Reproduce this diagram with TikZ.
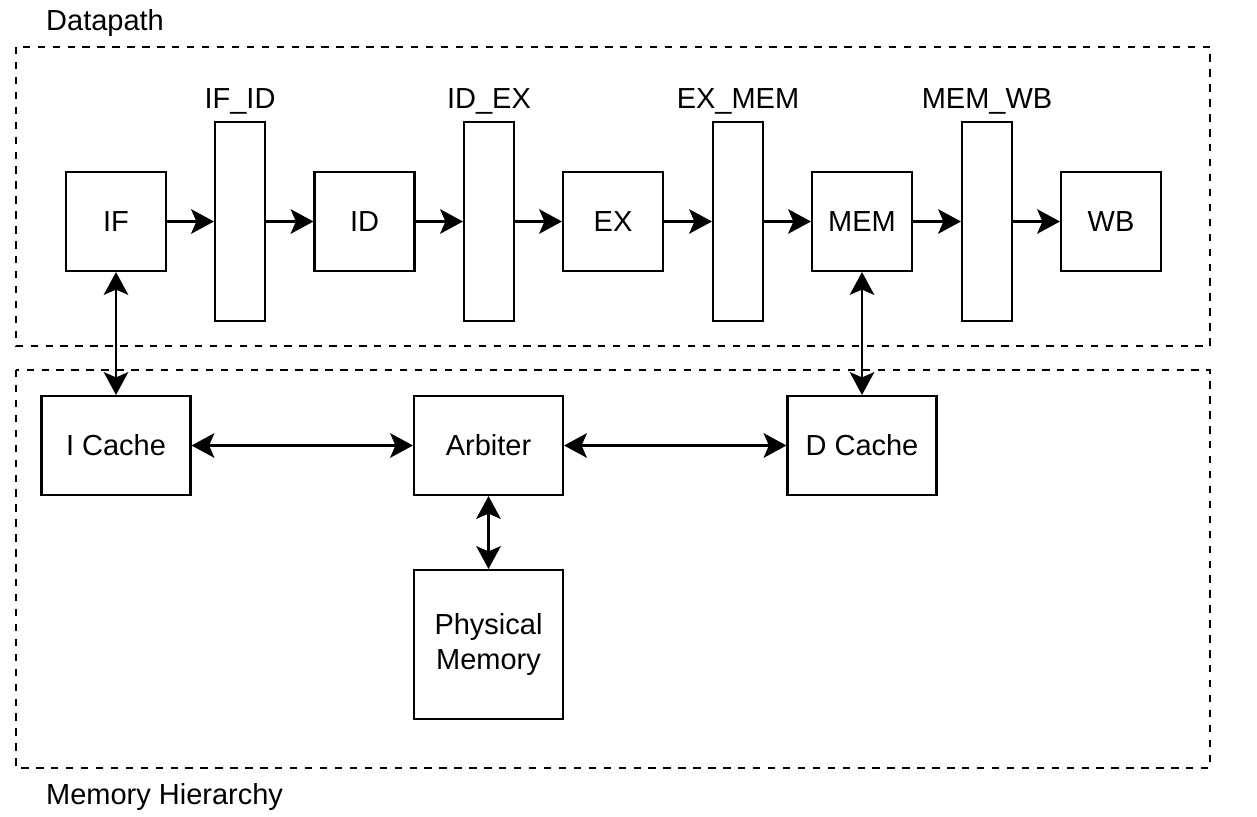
\documentclass[tikz,border=0pt]{standalone}
\usepackage{fontspec}
\setmainfont{Liberation Sans}
\usetikzlibrary{arrows.meta}

\tikzset{
    blk/.style={draw, line width=1.2pt, minimum width=2cm, minimum height=1.98cm, align=center, inner sep=0pt},
    reg/.style={draw, line width=1.2pt, minimum width=1cm, minimum height=3.98cm, inner sep=0pt},
    mem/.style={draw, line width=1.2pt, minimum width=2.98cm, minimum height=1.98cm, align=center, inner sep=0pt},
    grp/.style={draw, line width=1.3pt, dash pattern=on 4.2pt off 4.3pt},
    link/.style={line width=1.2pt, -{Stealth[length=13pt, width=14pt, inset=3pt]}},
    both/.style={line width=1.2pt, {Stealth[length=13pt, width=14pt, inset=3pt]}-{Stealth[length=13pt, width=14pt, inset=3pt]}}
}

\begin{document}
\begin{tikzpicture}[x=0.02cm, y=-0.02cm, font=\fontsize{16.5}{19.5}\selectfont]
    \useasboundingbox (0,0) rectangle (1257,817);

    % Groups
    \draw[grp] (16,47) rectangle (1210,346);
    \draw[grp] (16,370) rectangle (1210,768);
    \node[anchor=west] (dplabel) at (40,23) {Datapath};
    \node[anchor=west] (mhlabel) at (40,797) {Memory Hierarchy};

    % Pipeline stages
    \node[blk] (IF) at (116,221.5) {IF};
    \node[blk] (ID) at (364.5,221.5) {ID};
    \node[blk] (EX) at (613,221.5) {EX};
    \node[blk] (MEM) at (862,221.5) {MEM};
    \node[blk] (WB) at (1111,221.5) {WB};

    % Pipeline registers
    \node[reg] (ifid) at (240,221.5) {};
    \node[reg] (idex) at (489,221.5) {};
    \node[reg] (exmem) at (738,221.5) {};
    \node[reg] (memwb) at (987,221.5) {};
    \node (ifidlabel) at (240,101) {IF\_ID};
    \node (idexlabel) at (489,101) {ID\_EX};
    \node (exmemlabel) at (738,101) {EX\_MEM};
    \node (memwblabel) at (987,101) {MEM\_WB};

    % Memory hierarchy
    \node[mem] (icache) at (116,445.5) {I Cache};
    \node[mem] (arbiter) at (488.5,445.5) {Arbiter};
    \node[mem] (dcache) at (862,445.5) {D Cache};
    \node[mem, minimum height=2.98cm] (pmem) at (488.5,644.5) {Physical\\Memory};

    % Datapath flow
    \draw[link] (IF) -- (ifid);
    \draw[link] (ifid) -- (ID);
    \draw[link] (ID) -- (idex);
    \draw[link] (idex) -- (EX);
    \draw[link] (EX) -- (exmem);
    \draw[link] (exmem) -- (MEM);
    \draw[link] (MEM) -- (memwb);
    \draw[link] (memwb) -- (WB);

    % Memory links
    \draw[both] (IF) -- (icache);
    \draw[both] (MEM) -- (dcache);
    \draw[both] (icache) -- (arbiter);
    \draw[both] (arbiter) -- (dcache);
    \draw[both] (arbiter) -- (pmem);
\end{tikzpicture}
\end{document}
